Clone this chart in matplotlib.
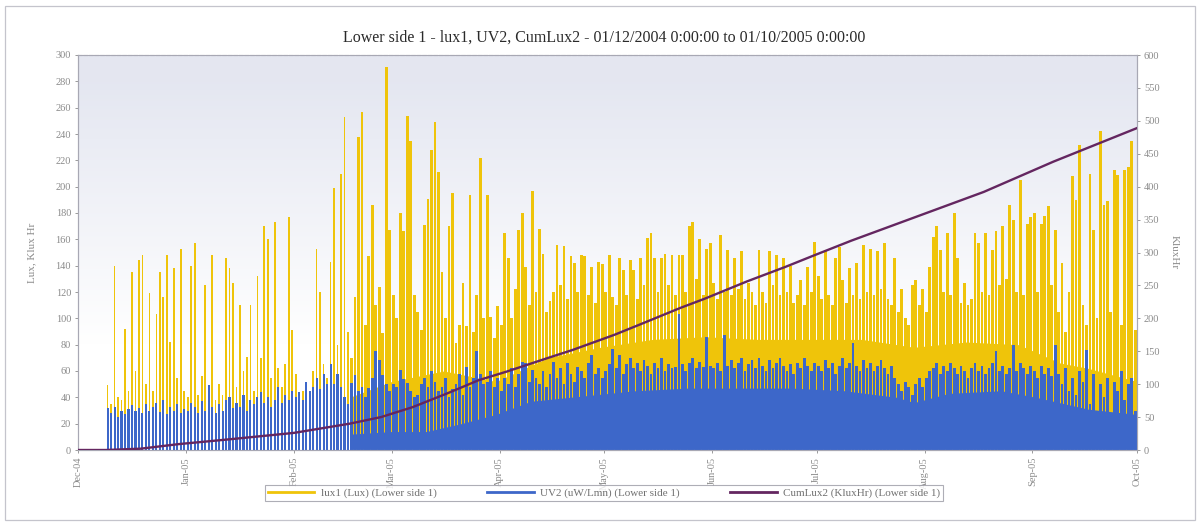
import datetime as dt

import matplotlib
matplotlib.use("Agg")
import matplotlib.dates as mdates
import matplotlib.pyplot as plt
import numpy as np
from matplotlib.lines import Line2D
from matplotlib.patches import Rectangle

plt.rcParams["font.family"] = ["Liberation Serif", "DejaVu Serif"]

# ---------------------------------------------------------------------------
# Data: daily peak readings from 01/12/2004, one value per day, by month
# ---------------------------------------------------------------------------
start_date = dt.date(2004, 12, 1)
end_date = dt.date(2005, 10, 1)

month_labels = ["Dec-04", "Jan-05", "Feb-05", "Mar-05", "Apr-05", "May-05",
                "Jun-05", "Jul-05", "Aug-05", "Sep-05", "Oct-05"]

lux_dec = [0, 0, 0, 0, 0, 0, 0, 0, 49, 35, 140, 40, 38, 92, 45, 135, 60, 144,
           148, 50, 119, 45, 103, 135, 116, 148, 82, 138, 55, 153, 45]
lux_jan = [40, 140, 157, 42, 56, 125, 45, 148, 38, 50, 42, 146, 138, 127, 48,
           110, 60, 71, 110, 45, 132, 70, 170, 160, 55, 173, 62, 48, 65, 177, 91]
lux_feb = [58, 40, 45, 49, 38, 60, 153, 120, 65, 55, 143, 199, 80, 210, 253,
           90, 70, 116, 238, 257, 95, 147, 186, 110, 124, 89, 291, 167]
lux_mar = [118, 100, 180, 166, 254, 235, 118, 105, 91, 171, 191, 228, 249, 211,
           135, 100, 170, 195, 81, 95, 127, 94, 194, 90, 118, 222, 100, 194, 101,
           85, 109]
lux_apr = [95, 165, 146, 100, 122, 167, 180, 139, 110, 197, 120, 168, 149, 105,
           113, 120, 156, 125, 155, 115, 147, 142, 120, 148, 147, 118, 139, 112,
           143, 141]
lux_may = [120, 148, 116, 110, 146, 137, 118, 144, 137, 115, 146, 125, 161, 165,
           146, 120, 146, 149, 125, 148, 118, 148, 148, 120, 170, 173, 130, 160,
           118, 153, 157]
lux_jun = [127, 115, 163, 120, 152, 118, 146, 122, 151, 115, 127, 120, 110, 152,
           120, 112, 151, 125, 148, 118, 146, 120, 140, 112, 118, 129, 110, 139,
           120, 158]
lux_jul = [132, 115, 152, 118, 110, 146, 154, 129, 112, 138, 118, 142, 115, 156,
           120, 153, 118, 151, 122, 157, 115, 110, 146, 105, 122, 100, 95, 125,
           129, 110, 122]
lux_aug = [105, 139, 162, 170, 152, 120, 165, 118, 180, 146, 112, 127, 110, 115,
           165, 157, 120, 165, 118, 152, 166, 125, 170, 130, 186, 175, 120, 205,
           118, 172, 177]
lux_sep = [180, 120, 172, 178, 185, 125, 167, 105, 142, 90, 120, 208, 190, 232,
           110, 95, 210, 167, 100, 242, 186, 189, 105, 213, 209, 95, 213, 215,
           235, 91]

uv_dec = [0, 0, 0, 0, 0, 0, 0, 0, 32, 28, 33, 25, 30, 27, 31, 34, 30, 32, 28,
          35, 30, 33, 36, 29, 38, 27, 33, 30, 35, 28, 31]
uv_jan = [30, 36, 33, 28, 37, 30, 49, 33, 28, 35, 30, 38, 40, 32, 36, 33, 42,
          30, 38, 35, 40, 44, 36, 40, 33, 38, 48, 36, 42, 38, 45]
uv_feb = [40, 44, 38, 52, 45, 48, 55, 46, 58, 50, 65, 50, 58, 48, 40, 35, 51,
          57, 45, 48, 40, 47, 55, 75, 68, 57, 50, 45]
uv_mar = [50, 48, 61, 54, 51, 45, 40, 42, 50, 55, 48, 60, 52, 45, 48, 55, 40,
          46, 50, 58, 42, 63, 48, 55, 75, 58, 50, 52, 60, 48, 55]
uv_apr = [45, 55, 50, 62, 48, 58, 67, 66, 52, 61, 55, 50, 60, 48, 58, 67, 55,
          62, 50, 66, 58, 52, 63, 60, 55, 66, 72, 58, 62, 55]
uv_may = [60, 65, 77, 62, 72, 58, 65, 70, 62, 66, 60, 68, 64, 58, 66, 62, 70,
          60, 65, 62, 63, 103, 65, 60, 66, 70, 62, 67, 63, 86, 64]
uv_jun = [62, 66, 60, 87, 64, 68, 62, 66, 70, 60, 65, 68, 62, 70, 64, 60, 68,
          62, 66, 70, 64, 60, 65, 58, 66, 62, 70, 64, 60, 66]
uv_jul = [64, 60, 68, 62, 66, 58, 64, 70, 62, 66, 81, 64, 60, 68, 62, 66, 60,
          64, 68, 62, 58, 64, 55, 50, 45, 52, 48, 42, 50, 55, 48]
uv_aug = [55, 60, 62, 66, 58, 64, 60, 66, 62, 58, 64, 60, 55, 62, 66, 60, 64,
          58, 62, 66, 75, 60, 64, 58, 62, 80, 60, 66, 62, 58, 64]
uv_sep = [60, 55, 64, 58, 62, 56, 80, 58, 50, 62, 45, 55, 42, 60, 52, 76, 35,
          58, 30, 50, 40, 55, 28, 52, 45, 60, 38, 50, 55, 30]

# Daytime base level that both sensors hold between the midday peaks
# once the logging interval was shortened (days since 01/12/2004, value)
lux_base_day = [0, 78, 78, 90, 105, 120, 135, 150, 165, 180, 195, 210, 225,
                240, 255, 270, 282, 290, 304]
lux_base = [0, 0, 40, 52, 60, 52, 70, 78, 84, 86, 84, 84, 84, 78, 82, 80, 66,
            62, 52]
uv_base_day = [0, 78, 78, 90, 100, 110, 120, 130, 145, 160, 175, 190, 205,
               220, 235, 240, 250, 265, 275, 290, 304]
uv_base = [0, 0, 12, 14, 14, 20, 27, 37, 41, 45, 47, 47, 47, 45, 40, 36, 43,
           45, 40, 31, 27]

# Cumulative lux-hours (KluxHr): days since 01/12/2004 and running total
cum_day = [0, 8, 18, 29, 43, 62, 78, 87, 96, 106, 115, 123, 135, 142, 154,
           161, 173, 180, 192, 203, 211, 222, 241, 260, 280, 304]
cum_klux = [0, 0, 2, 9, 16, 26, 40, 50, 65, 86, 106, 119, 140, 152, 175, 190,
            216, 230, 256, 278, 295, 318, 355, 392, 438, 489]

lux = np.concatenate([lux_dec, lux_jan, lux_feb, lux_mar, lux_apr, lux_may,
                      lux_jun, lux_jul, lux_aug, lux_sep])
uv = np.concatenate([uv_dec, uv_jan, uv_feb, uv_mar, uv_apr, uv_may,
                     uv_jun, uv_jul, uv_aug, uv_sep])

# ---------------------------------------------------------------------------
# Styling
# ---------------------------------------------------------------------------
YELLOW = "#efc40a"
BLUE = "#3d67c9"
PURPLE = "#642660"
GREY_TEXT = "#8a8a8a"
GREY_LINE = "#a8a8b4"

fig = plt.figure(figsize=(12.02, 5.24), dpi=100)
fig.patch.set_facecolor("white")

# outer chart frame
fig.patches.append(Rectangle((5 / 1202, 4 / 524), 1190 / 1202, 514 / 524,
                             transform=fig.transFigure, fill=False,
                             edgecolor="#c4c4cc", linewidth=0.9))

ax = fig.add_axes([78 / 1202, 1 - 450 / 524, (1137 - 78) / 1202, (450 - 55) / 524])

x0 = mdates.date2num(start_date)
x1 = mdates.date2num(end_date)

# soft background shading of the plot area
shade = np.linspace(1.0, 0.0, 256).reshape(-1, 1)
shade = np.clip(shade * 1.5 - 0.4, 0, 1)
top_rgb = np.array([0.895, 0.905, 0.945])
img = np.ones((256, 1, 3)) * (1 - shade[..., None]) + top_rgb * shade[..., None]
ax.imshow(img, extent=[x0, x1, 0, 300], aspect="auto", zorder=0,
          interpolation="bilinear")

days = np.arange(len(lux))
xpos = x0 + days + 0.5
# sparse logging in winter gives thin isolated spikes, denser logging later
early = days < 78
lux_w = np.where(early, 0.5, 0.8)
uv_w = np.where(early, 0.6, 0.8)

ax.fill_between(x0 + np.array(lux_base_day), lux_base, color=YELLOW,
                linewidth=0, zorder=1.5)
ax.bar(xpos, lux, width=lux_w, color=YELLOW, linewidth=0, zorder=2)
ax.fill_between(x0 + np.array(uv_base_day), uv_base, color=BLUE,
                linewidth=0, zorder=2.5)
ax.bar(xpos, uv, width=uv_w, color=BLUE, linewidth=0, zorder=3)

ax.set_xlim(x0, x1)
ax.set_ylim(0, 300)
ax.set_yticks(np.arange(0, 301, 20))

month_dates = [mdates.date2num(dt.date(2004 + (11 + i) // 12, (11 + i) % 12 + 1, 1))
               for i in range(len(month_labels))]
ax.set_xticks(month_dates)
ax.set_xticklabels(month_labels, rotation=90)

ax2 = ax.twinx()
ax2.plot(x0 + np.array(cum_day), cum_klux, color=PURPLE, linewidth=1.7,
         zorder=4)
ax2.set_ylim(0, 600)
ax2.set_yticks(np.arange(0, 601, 50))
ax2.set_xlim(x0, x1)

for a in (ax, ax2):
    a.tick_params(axis="both", labelsize=7.5, colors=GREY_TEXT, length=2,
                  width=0.6, pad=3)
    for sp in a.spines.values():
        sp.set_color(GREY_LINE)
        sp.set_linewidth(0.8)
ax.spines["top"].set_linestyle((0, (3, 2)))

ax.set_ylabel("Lux, Klux Hr", fontsize=8, color=GREY_TEXT, labelpad=14)
ax2.set_ylabel("KluxHr", fontsize=8, color=GREY_TEXT, rotation=270,
               labelpad=14)

fig.text(0.503, 1 - 38 / 524,
         "Lower side 1 - lux1, UV2, CumLux2 - 01/12/2004 0:00:00 to 01/10/2005 0:00:00",
         ha="center", va="center", fontsize=11.5, color="#2a2a2a")

handles = [Line2D([], [], color=YELLOW, linewidth=2),
           Line2D([], [], color=BLUE, linewidth=2),
           Line2D([], [], color=PURPLE, linewidth=2)]
labels = ["lux1 (Lux) (Lower side 1)", "UV2 (uW/Lmn) (Lower side 1)",
          "CumLux2 (KluxHr) (Lower side 1)"]
leg = fig.legend(handles, labels, loc="center", ncol=3,
                 bbox_to_anchor=(604 / 1202, 1 - 493 / 524), fontsize=8,
                 frameon=True, fancybox=False, handlelength=4.2,
                 columnspacing=4.5, borderpad=0.25, handletextpad=0.6,
                 labelcolor="#707070")
leg.get_frame().set_edgecolor("#9a9aa4")
leg.get_frame().set_linewidth(0.8)

fig.savefig("out.png", dpi=100)
